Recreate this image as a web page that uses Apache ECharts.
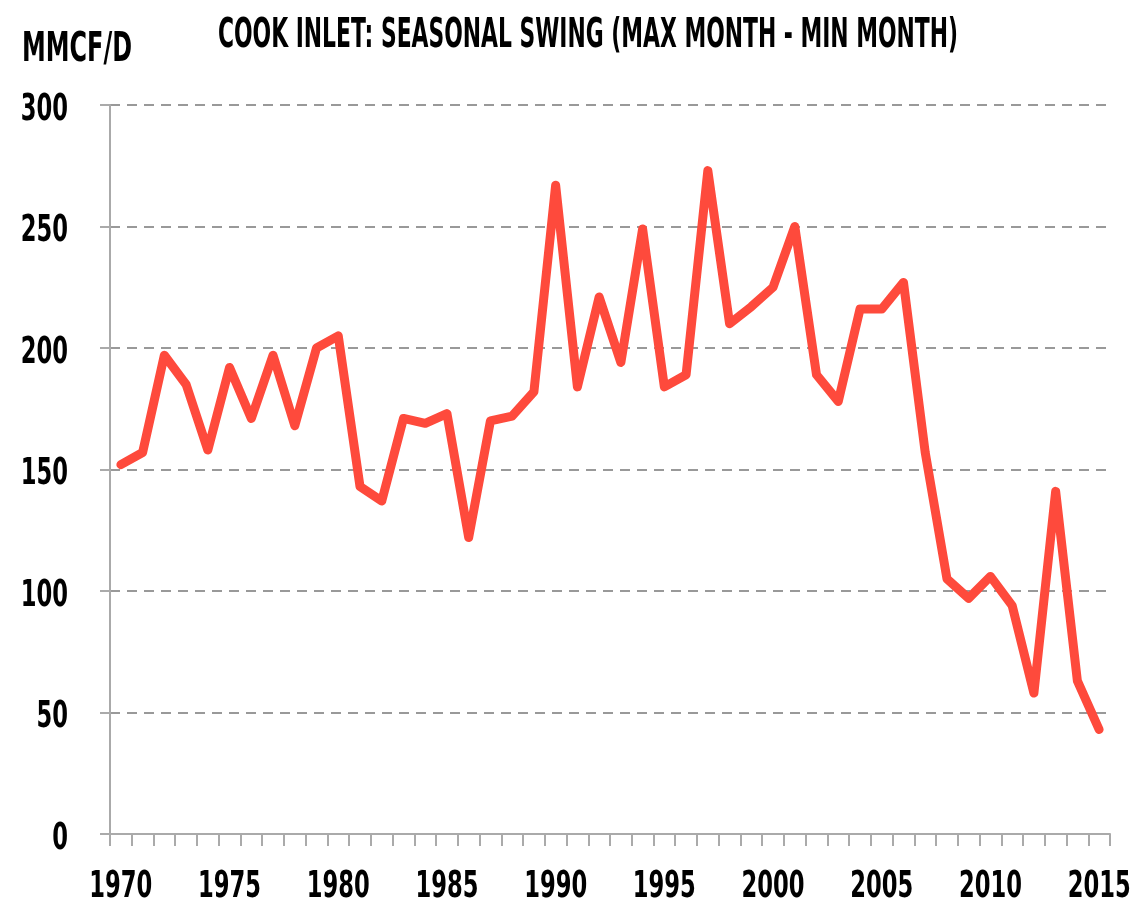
<!DOCTYPE html>
<html>
<head>
<meta charset="utf-8">
<script src="https://cdn.jsdelivr.net/npm/echarts@6/dist/echarts.min.js"></script>
<style>
html,body{margin:0;padding:0;background:#fff;}
#chart{width:1134px;height:902px;}
</style>
</head>
<body>
<div id="chart"></div>
<script>
const years = ['1970','1971','1972','1973','1974','1975','1976','1977','1978','1979',
  '1980','1981','1982','1983','1984','1985','1986','1987','1988','1989',
  '1990','1991','1992','1993','1994','1995','1996','1997','1998','1999',
  '2000','2001','2002','2003','2004','2005','2006','2007','2008','2009',
  '2010','2011','2012','2013','2014','2015'];
const swing = [152,157,197,185,158,192,171,197,168,200,
  205,143,137,171,169,173,122,170,172,182,
  267,184,221,194,249,184,189,273,210,217,
  225,250,189,178,216,216,227,157,105,97,
  106,94,58,141,63,43];
const xTickLabels = ['1970','1975','1980','1985','1990','1995','2000','2005','2010','2015'];
const yTickValues = [0,50,100,150,200,250,300];
const titleText = 'COOK INLET: SEASONAL SWING (MAX MONTH - MIN MONTH)';
const unitText = 'MMCF/D';

const FAMILY = '"DejaVu Sans Condensed", "DejaVu Sans", sans-serif';
function fontStr(size){ return 'bold ' + size + 'px ' + FAMILY; }
const mctx = document.createElement('canvas').getContext('2d');
function measure(text, size){ mctx.font = fontStr(size); return mctx.measureText(text).width; }

const chart = echarts.init(document.getElementById('chart'), null, {renderer:'canvas'});
chart.setOption({
  backgroundColor:'#ffffff',
  animation:false,
  grid:{left:110, right:24, top:105, bottom:68, containLabel:false, outerBoundsMode:'none'},
  xAxis:{
    type:'category', data:years, boundaryGap:true,
    axisLine:{lineStyle:{color:'#aaaaaa', width:2}},
    axisTick:{show:true, interval:0, length:12, lineStyle:{color:'#aaaaaa', width:2}},
    axisLabel:{show:false},
    splitLine:{show:false}
  },
  yAxis:{
    type:'value', min:0, max:300, interval:50,
    axisLine:{show:true, lineStyle:{color:'#aaaaaa', width:2}},
    axisTick:{show:true, length:10, lineStyle:{color:'#aaaaaa', width:2}},
    axisLabel:{show:false},
    splitLine:{show:true, lineStyle:{color:'#999999', width:2, type:[10,7]}}
  },
  series:[{
    type:'line', data:swing, showSymbol:false, symbol:'none',
    lineStyle:{color:'#fe4a3c', width:9, cap:'round', join:'round'},
    itemStyle:{color:'#fe4a3c'}
  }]
});

// condensed text via horizontal scaling
const labelSize = 38;
const digitScale = 63 / measure('1970', labelSize);
const titleSize = 41;
const titleScale = 740 / measure(titleText, titleSize);
const unitSize = 41;
const unitScale = 110 / measure(unitText, unitSize);

const gfx = [];
gfx.push({type:'text', x:588, y:36, scaleX:titleScale, silent:true,
  style:{text:titleText, font:fontStr(titleSize), fill:'#000', align:'center', verticalAlign:'middle'}});
gfx.push({type:'text', x:22, y:50, scaleX:unitScale, silent:true,
  style:{text:unitText, font:fontStr(unitSize), fill:'#000', align:'left', verticalAlign:'middle'}});
yTickValues.forEach(function(v){
  const py = chart.convertToPixel({yAxisIndex:0}, v);
  gfx.push({type:'text', x:68, y:py + 5, scaleX:digitScale, silent:true,
    style:{text:String(v), font:fontStr(labelSize), fill:'#000', align:'right', verticalAlign:'middle'}});
});
xTickLabels.forEach(function(lbl){
  const px = chart.convertToPixel({xAxisIndex:0}, lbl);
  gfx.push({type:'text', x:px, y:887, scaleX:digitScale, silent:true,
    style:{text:lbl, font:fontStr(labelSize), fill:'#000', align:'center', verticalAlign:'middle'}});
});
chart.setOption({graphic:gfx});
</script>
</body>
</html>
